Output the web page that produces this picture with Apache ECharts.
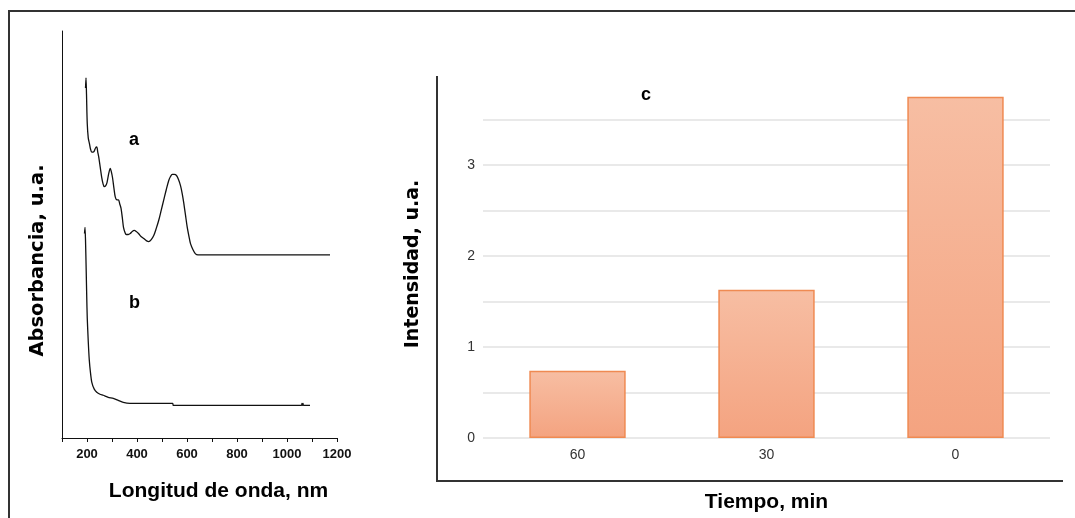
<!DOCTYPE html>
<html>
<head>
<meta charset="utf-8">
<script src="https://cdn.jsdelivr.net/npm/echarts@6/dist/echarts.min.js"></script>
<style>
  html, body { margin: 0; padding: 0; background: #fff; }
  #chart { width: 1075px; height: 518px; }
</style>
</head>
<body>
<div id="chart"></div>
<script>
// UV-Vis spectra: [wavelength nm, absorbance (offset, a.u.)]
const spectrumA = [
  [194, 3.44], [196, 3.54], [198, 3.38], [201, 3.09], [205, 2.95], [210, 2.89], [214, 2.84],
  [219, 2.81], [224, 2.81], [229, 2.82], [234, 2.85], [239, 2.86], [243, 2.81], [247, 2.76],
  [253, 2.66], [259, 2.56], [264, 2.50], [269, 2.47], [275, 2.48], [280, 2.51], [287, 2.60],
  [293, 2.65], [297, 2.62], [302, 2.56], [308, 2.45], [313, 2.37], [320, 2.34], [326, 2.34],
  [331, 2.30], [336, 2.26], [341, 2.17], [346, 2.07], [352, 2.02], [357, 2.00], [365, 2.00],
  [373, 2.01], [381, 2.03], [389, 2.04], [397, 2.03], [406, 2.01], [416, 1.98], [427, 1.96],
  [437, 1.94], [447, 1.93], [457, 1.95], [467, 1.99], [477, 2.06], [487, 2.14], [497, 2.24],
  [507, 2.34], [517, 2.44], [527, 2.53], [534, 2.57], [541, 2.59], [549, 2.59], [558, 2.58],
  [566, 2.54], [574, 2.48], [581, 2.40], [587, 2.31], [594, 2.19], [601, 2.07], [608, 1.98],
  [614, 1.91], [624, 1.85], [634, 1.81], [644, 1.80], [654, 1.80], [800, 1.80], [1000, 1.80],
  [1172, 1.80]
];
const spectrumB = [
  [190, 2.01], [192, 2.07], [194, 1.95], [197, 1.62], [199, 1.38], [201, 1.18], [205, 0.95],
  [209, 0.77], [214, 0.64], [219, 0.55], [229, 0.48], [239, 0.45], [252, 0.43], [265, 0.42],
  [285, 0.40], [305, 0.39], [325, 0.37], [345, 0.35], [372, 0.34], [450, 0.34], [543, 0.34],
  [545, 0.32], [700, 0.32], [900, 0.32], [1058, 0.32], [1060, 0.34], [1062, 0.32],
  [1064, 0.34], [1066, 0.32], [1092, 0.32]
];

// Emission intensity vs. time
const timeCategories = ['60', '30', '0'];
const intensityValues = [0.74, 1.63, 3.75];

const FONT = '"Liberation Sans", Arial, sans-serif';
const WIDE = '"DejaVu Sans", "Liberation Sans", sans-serif';
const NARROW = '"Liberation Sans Narrow", "Liberation Sans", Arial, sans-serif';

const chart = echarts.init(document.getElementById('chart'), null, { renderer: 'canvas' });

const xTitleStyle = { fontFamily: FONT, fontWeight: 'bold', fontSize: 21, color: '#000' };
const yTitleStyle = { fontFamily: WIDE, fontWeight: 'bold', fontSize: 19.5, color: '#000' };

chart.setOption({
  animation: false,
  backgroundColor: '#fff',
  grid: [
    { left: 62, top: 31, width: 275, height: 407 },
    { left: 483, top: 74, width: 567, height: 364 }
  ],
  xAxis: [
    {
      gridIndex: 0, type: 'value', min: 100, max: 1200, interval: 100,
      name: 'Longitud de onda, nm', nameLocation: 'middle', nameGap: 43,
      nameTextStyle: Object.assign({}, xTitleStyle, { padding: [0, 0, 0, 38] }),
      axisLine: { show: true, lineStyle: { color: '#111', width: 1 } },
      axisTick: { show: true, length: 4, lineStyle: { color: '#111' } },
      axisLabel: {
        margin: 10, fontFamily: FONT, fontWeight: 'bold', fontSize: 13, color: '#111',
        formatter: v => (v % 200 === 0 ? String(v) : '')
      },
      splitLine: { show: false }
    },
    {
      gridIndex: 1, type: 'category', data: timeCategories,
      name: 'Tiempo, min', nameLocation: 'middle', nameGap: 54,
      nameTextStyle: xTitleStyle,
      axisLine: { show: false }, axisTick: { show: false },
      axisLabel: { margin: 10, fontFamily: NARROW, fontSize: 14, color: '#333' }
    }
  ],
  yAxis: [
    {
      gridIndex: 0, type: 'value', min: 0, max: 4,
      name: 'Absorbancia, u.a.', nameLocation: 'middle', nameGap: 14,
      nameTextStyle: Object.assign({}, yTitleStyle, { padding: [0, 52, 0, 0] }),
      axisLine: { show: true, lineStyle: { color: '#111', width: 1 } },
      axisTick: { show: false }, axisLabel: { show: false }, splitLine: { show: false }
    },
    {
      gridIndex: 1, type: 'value', min: 0, max: 4, interval: 0.5,
      name: 'Intensidad, u.a.', nameLocation: 'middle', nameGap: 60,
      nameTextStyle: Object.assign({}, yTitleStyle, { fontSize: 19, padding: [0, 16, 0, 0] }),
      axisLine: { show: false }, axisTick: { show: false },
      axisLabel: {
        margin: 8, fontFamily: NARROW, fontSize: 14, color: '#333',
        formatter: v => (Number.isInteger(v) && v < 4 ? String(v) : '')
      },
      splitLine: { show: true, showMaxLine: false, lineStyle: { color: '#e2e2e2', width: 1.5 } }
    }
  ],
  series: [
    {
      type: 'line', xAxisIndex: 0, yAxisIndex: 0, data: spectrumA,
      showSymbol: false, smooth: 0.3, lineStyle: { color: '#111', width: 1.3 }
    },
    {
      type: 'line', xAxisIndex: 0, yAxisIndex: 0, data: spectrumB,
      showSymbol: false, smooth: 0.2, lineStyle: { color: '#111', width: 1.3 }
    },
    {
      type: 'bar', xAxisIndex: 1, yAxisIndex: 1, data: intensityValues,
      barWidth: '51%',
      itemStyle: {
        color: new echarts.graphic.LinearGradient(0, 0, 0, 1, [
          { offset: 0, color: '#f7bea3' },
          { offset: 1, color: '#f4a380' }
        ]),
        borderColor: '#ef8a52', borderWidth: 1.5
      }
    }
  ],
  graphic: [
    // outer frame (top and left edges)
    { type: 'polyline', shape: { points: [[9, 518], [9, 11], [1075, 11]] },
      style: { stroke: '#333', lineWidth: 2, fill: null } },
    // frame around the bar panel (left and bottom edges)
    { type: 'polyline', shape: { points: [[437, 76], [437, 481], [1063, 481]] },
      style: { stroke: '#333', lineWidth: 2, fill: null } },
    { type: 'text', left: 129, top: 131,
      style: { text: 'a', font: 'bold 18px ' + FONT, fill: '#000' } },
    { type: 'text', left: 129, top: 294,
      style: { text: 'b', font: 'bold 18px ' + FONT, fill: '#000' } },
    { type: 'text', left: 641, top: 86,
      style: { text: 'c', font: 'bold 18px ' + FONT, fill: '#000' } }
  ]
});
</script>
</body>
</html>
